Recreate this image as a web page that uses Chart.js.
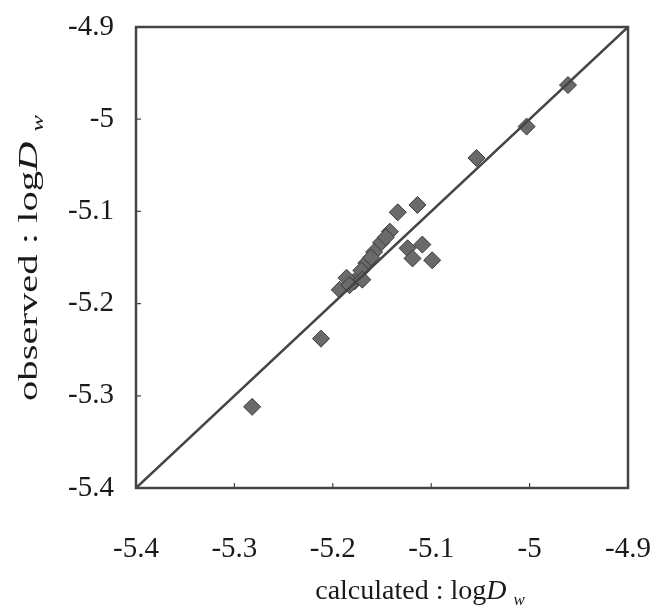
<!DOCTYPE html>
<html>
<head>
<meta charset="utf-8">
<script src="https://cdn.jsdelivr.net/npm/chart.js@4.4.1/dist/chart.umd.min.js"></script>
<style>
  html, body { margin: 0; padding: 0; background: #fff; }
  #wrap { width: 659px; height: 609px; }
</style>
</head>
<body>
<div id="wrap"><canvas id="chart" width="659" height="609"></canvas></div>
<script>
// calculated vs observed logDw
const calculated = [
  -4.961, -5.003, -5.054, -5.134, -5.114, -5.109, -5.099, -5.124,
  -5.119, -5.142, -5.151, -5.158, -5.166, -5.161, -5.171, -5.178,
  -5.186, -5.193, -5.170, -5.212, -5.282, -5.146, -5.183
];
const observed = [
  -4.963, -5.008, -5.042, -5.101, -5.093, -5.136, -5.153, -5.140,
  -5.151, -5.122, -5.134, -5.144, -5.156, -5.150, -5.164, -5.176,
  -5.172, -5.185, -5.174, -5.238, -5.312, -5.128, -5.180
];
const lineEnds = [-5.4, -4.9];
const tickValues = [-5.4, -5.3, -5.2, -5.1, -5.0, -4.9];

const ink = '#454545';
const serif = '"Liberation Serif", "DejaVu Serif", serif';

const points = calculated.map((x, i) => ({ x: x, y: observed[i] }));
const diag = lineEnds.map(v => ({ x: v, y: v }));

// frame, inward tick marks and the two axis titles (italic D, subscript w)
const decor = {
  id: 'decor',
  afterDraw(chart) {
    const { ctx, chartArea: a, scales } = chart;
    ctx.save();
    ctx.strokeStyle = ink;
    ctx.lineWidth = 2.5;
    ctx.strokeRect(a.left, a.top, a.right - a.left, a.bottom - a.top);

    ctx.lineWidth = 1.2;
    tickValues.forEach(v => {
      const px = scales.x.getPixelForValue(v);
      const py = scales.y.getPixelForValue(v);
      ctx.beginPath();
      ctx.moveTo(px, a.bottom); ctx.lineTo(px, a.bottom - 5);
      ctx.moveTo(a.left, py); ctx.lineTo(a.left + 5, py);
      ctx.stroke();
    });

    const title = (label, cx, cy, rot, size, stretch) => {
      ctx.save();
      ctx.translate(cx, cy);
      ctx.rotate(rot);
      ctx.scale(stretch, 1);
      ctx.fillStyle = '#1a1a1a';
      ctx.textBaseline = 'middle';
      ctx.textAlign = 'left';
      const f1 = size + 'px ' + serif, f2 = 'italic ' + size + 'px ' + serif;
      const f3 = 'italic ' + Math.round(size * 0.6) + 'px ' + serif;
      ctx.font = f1; const w1 = ctx.measureText(label).width;
      ctx.font = f2; const w2 = ctx.measureText('D').width;
      ctx.font = f3; const w3 = ctx.measureText('w').width;
      const gap = size * 0.25;
      let x = -(w1 + w2 + gap + w3) / 2;
      ctx.font = f1; ctx.fillText(label, x, 0); x += w1;
      ctx.font = f2; ctx.fillText('D', x, 0); x += w2 + gap;
      ctx.font = f3; ctx.fillText('w', x, size * 0.3);
      ctx.restore();
    };
    title('calculated : log', 420, 592, 0, 28, 1);
    title('observed : log', 30, 258, -Math.PI / 2, 28, 1.45);
    ctx.restore();
  }
};

const tickFont = { family: serif, size: 29 };

new Chart(document.getElementById('chart'), {
  type: 'scatter',
  data: {
    datasets: [
      {
        type: 'line',
        data: diag,
        borderColor: ink,
        borderWidth: 2.5,
        pointRadius: 0,
        fill: false
      },
      {
        data: points,
        pointStyle: 'rectRot',
        pointRadius: 8.5,
        pointHoverRadius: 8.5,
        backgroundColor: '#6a6a6a',
        borderColor: '#3a3a3a',
        borderWidth: 1
      }
    ]
  },
  options: {
    responsive: false,
    animation: false,
    layout: { padding: { top: 27, right: 31, left: 0, bottom: 0 } },
    plugins: { legend: { display: false }, tooltip: { enabled: false } },
    scales: {
      x: {
        type: 'linear',
        min: -5.4, max: -4.9,
        afterBuildTicks: s => { s.ticks = tickValues.map(v => ({ value: v })); },
        afterFit: s => { s.height = 121; s.paddingLeft = 0; s.paddingRight = 0; },
        grid: { display: false, drawTicks: false },
        border: { display: false },
        ticks: {
          padding: 44,
          color: '#1a1a1a',
          font: tickFont,
          maxRotation: 0,
          callback: v => String(+v.toFixed(1))
        }
      },
      y: {
        type: 'linear',
        min: -5.4, max: -4.9,
        afterBuildTicks: s => { s.ticks = tickValues.map(v => ({ value: v })); },
        afterFit: s => { s.width = 136; s.paddingTop = 0; s.paddingBottom = 0; },
        grid: { display: false, drawTicks: false },
        border: { display: false },
        ticks: {
          padding: 22,
          color: '#1a1a1a',
          font: tickFont,
          callback: v => String(+v.toFixed(1))
        }
      }
    }
  },
  plugins: [decor]
});
</script>
</body>
</html>
